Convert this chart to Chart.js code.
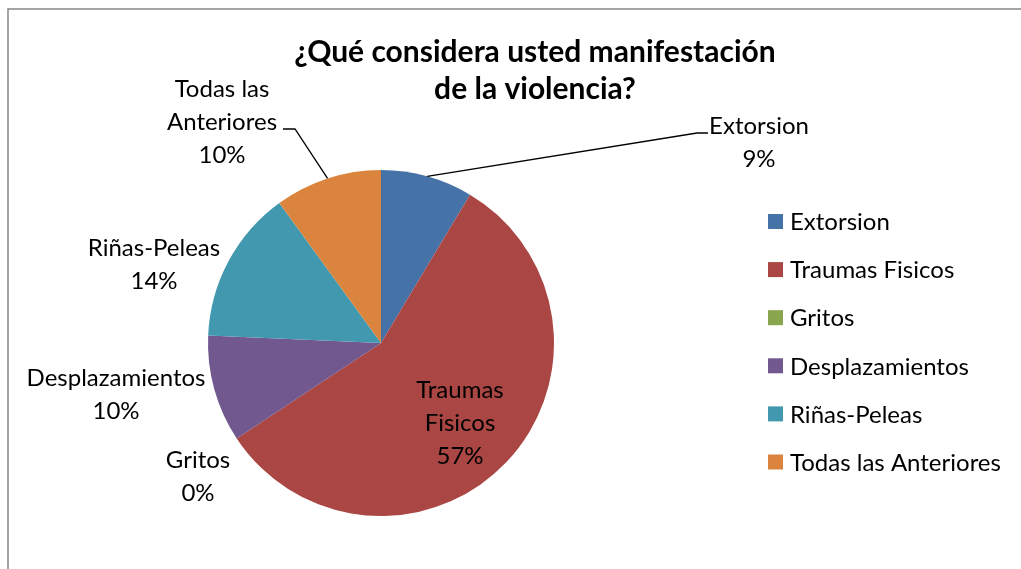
<!DOCTYPE html>
<html lang="es">
<head>
    <meta charset="UTF-8">
    <title>Manifestación de la violencia</title>
    <script src="https://cdn.jsdelivr.net/npm/chart.js"></script>
    <style>
        body { margin: 0; background: #fff; }
    </style>
</head>
<body>
    <canvas id="pieChart" width="1021" height="569"></canvas>
    <script>
        // datos
        const categories = ['Extorsion', 'Traumas Fisicos', 'Gritos', 'Desplazamientos', 'Riñas-Peleas', 'Todas las Anteriores'];
        const percents = [8.6, 57.1, 0, 10.0, 14.3, 10.0];
        const sliceColors = ['#4572A7', '#AA4643', '#89A54E', '#71588F', '#4198AF', '#DB843D'];
        const labelLines = [['Extorsion'], ['Traumas', 'Fisicos'], ['Gritos'], ['Desplazamientos'], ['Riñas-Peleas'], ['Todas las', 'Anteriores']];
        const titleLines = ['¿Qué considera usted manifestación', 'de la violencia?'];

        const FONT = 'Lato, "Open Sans", sans-serif';

        // posicion de las etiquetas (centro x, linea base de la primera linea)
        const labelAnchors = [
            { x: 759, y: 134, leader: true },
            { x: 460, y: 398 },
            { x: 198, y: 468 },
            { x: 116, y: 386 },
            { x: 154, y: 256 },
            { x: 222, y: 97, leader: true }
        ];

        const decorPlugin = {
            id: 'decor',
            beforeDraw(chart) {
                const c = chart.ctx;
                c.save();
                c.strokeStyle = '#868686';
                c.lineWidth = 1.5;
                c.strokeRect(8, 9, 1200, 800);
                c.restore();
            },
            afterDatasetsDraw(chart) {
                const c = chart.ctx;
                const meta = chart.getDatasetMeta(0);
                c.save();

                // titulo
                c.fillStyle = '#000';
                c.textAlign = 'center';
                c.textBaseline = 'alphabetic';
                c.font = 'bold 30px ' + FONT;
                titleLines.forEach((t, i) => c.fillText(t, 535, 62 + i * 37));

                // etiquetas de datos
                c.font = '24px ' + FONT;
                meta.data.forEach((arc, i) => {
                    const a = labelAnchors[i];
                    const lines = labelLines[i].concat([Math.round(percents[i]) + '%']);
                    lines.forEach((t, j) => c.fillText(t, a.x, a.y + j * 33));
                    if (a.leader) {
                        const mid = (arc.startAngle + arc.endAngle) / 2;
                        const px = arc.x + arc.outerRadius * Math.cos(mid);
                        const py = arc.y + arc.outerRadius * Math.sin(mid);
                        c.strokeStyle = '#000';
                        c.lineWidth = 1.3;
                        c.beginPath();
                        c.moveTo(px, py);
                        if (i === 0) {
                            c.lineTo(697, 133);
                            c.lineTo(708, 133);
                        } else {
                            c.lineTo(295, 129);
                            c.lineTo(283, 129);
                        }
                        c.stroke();
                    }
                });

                // leyenda
                c.textAlign = 'left';
                c.textBaseline = 'middle';
                c.font = '24px ' + FONT;
                categories.forEach((name, i) => {
                    const y = 221.5 + i * 48.1;
                    c.fillStyle = sliceColors[i];
                    c.fillRect(768, y - 7.5, 15, 15);
                    c.fillStyle = '#000';
                    c.fillText(name, 790, y + 1);
                });
                c.restore();
            }
        };

        new Chart(document.getElementById('pieChart'), {
            type: 'pie',
            data: {
                labels: categories,
                datasets: [{
                    data: percents,
                    backgroundColor: sliceColors,
                    borderWidth: 0
                }]
            },
            options: {
                responsive: false,
                animation: false,
                layout: { padding: { left: 208, right: 467, top: 170, bottom: 53 } },
                plugins: {
                    legend: { display: false },
                    tooltip: { enabled: false }
                }
            },
            plugins: [decorPlugin]
        });
    </script>
</body>
</html>
